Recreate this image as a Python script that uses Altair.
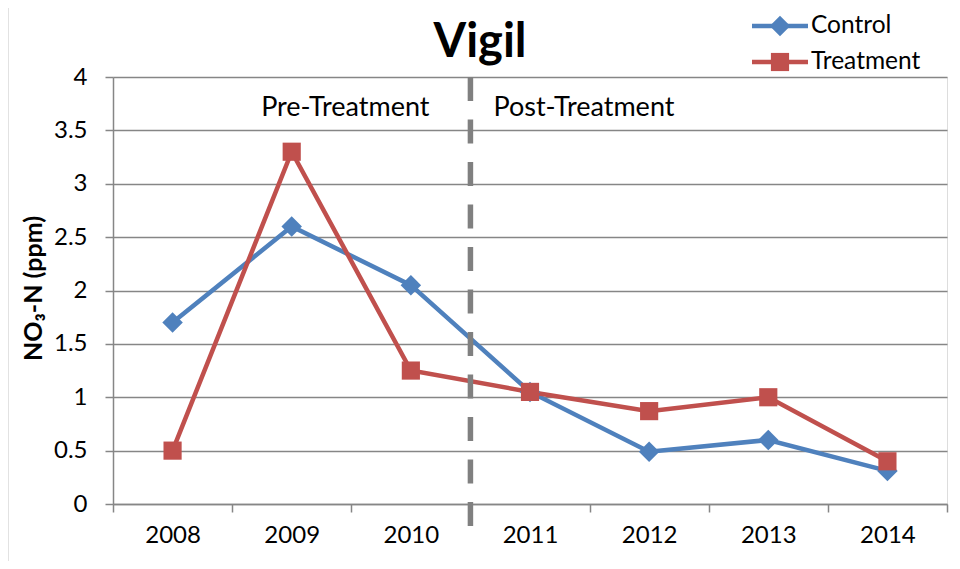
import altair as alt
import pandas as pd

years = ["2008", "2009", "2010", "2011", "2012", "2013", "2014"]
control = [1.7, 2.6, 2.05, 1.05, 0.49, 0.6, 0.31]
treatment = [0.5, 3.3, 1.25, 1.05, 0.87, 1.0, 0.4]
series_names = ["Control", "Treatment"]
series_colors = ["#4F81BD", "#C0504D"]
series_shapes = ["diamond", "square"]
series_sizes = [420, 330]
y_ticks = [0, 0.5, 1, 1.5, 2, 2.5, 3, 3.5, 4]
divider_year = "2011"
phase_labels = ["Pre-Treatment", "Post-Treatment"]
chart_title = "Vigil"
y_title = "NO\u2083-N (ppm)"

FONT = "Lato"
GRID = "#868686"

df = pd.DataFrame({
    "year": years * 2,
    "value": control + treatment,
    "series": [series_names[0]] * len(years) + [series_names[1]] * len(years),
})

x_scale = alt.Scale(type="band", domain=years, paddingInner=0, paddingOuter=0)
y_scale = alt.Scale(domain=[0, 4], nice=False)
color_scale = alt.Scale(domain=series_names, range=series_colors)

x_enc = alt.X(
    "year:O", scale=x_scale, bandPosition=0.5,
    axis=alt.Axis(
        title=None, labelAngle=0, tickBand="extent", tickSize=8, tickColor=GRID,
        tickWidth=1.5, domainColor=GRID, domainWidth=1.5, labelPadding=11,
        labelFont=FONT, labelFontSize=24, labelColor="#000000", grid=False,
    ),
)
y_enc = alt.Y(
    "value:Q", scale=y_scale,
    axis=alt.Axis(
        title=y_title, values=y_ticks, format="~g", grid=True, gridColor=GRID,
        gridWidth=1.5, tickSize=8, tickColor=GRID, tickWidth=1.5,
        domainColor=GRID, domainWidth=1.5, labelPadding=18, labelFont=FONT,
        labelFontSize=24, labelColor="#000000", titleFont=FONT, titleFontSize=25,
        titleFontWeight="bold", titleColor="#000000", titleX=-80, titleY=211,
        titleBaseline="middle", titleAngle=270,
    ),
)

base = alt.Chart(df)
lines = base.mark_line(strokeWidth=4.5).encode(
    x=x_enc, y=y_enc,
    color=alt.Color("series:N", scale=color_scale, legend=None),
)
points = base.mark_point(filled=True, opacity=1).encode(
    x=x_enc, y=y_enc,
    color=alt.Color("series:N", scale=color_scale, legend=None),
    shape=alt.Shape("series:N", scale=alt.Scale(domain=series_names, range=series_shapes), legend=None),
    size=alt.Size("series:N", scale=alt.Scale(domain=series_names, range=series_sizes), legend=None),
)

divider = alt.Chart(pd.DataFrame({"year": [divider_year]})).mark_rule(
    color="#808080", strokeWidth=5.5, strokeDash=[24, 18.5]
).encode(
    x=alt.X("year:O", scale=x_scale, bandPosition=0),
    y=alt.value(0), y2=alt.value(450),
)

pre_text = alt.Chart(pd.DataFrame({"t": [phase_labels[0]]})).mark_text(
    font=FONT, fontSize=27, align="center", baseline="alphabetic", dx=-6, color="#000000"
).encode(
    x=alt.X(datum="2010", scale=x_scale, bandPosition=0),
    y=alt.Y(datum=3.63, scale=y_scale),
    text="t:N",
)
post_text = alt.Chart(pd.DataFrame({"t": [phase_labels[1]]})).mark_text(
    font=FONT, fontSize=27, align="left", baseline="alphabetic", dx=23, color="#000000"
).encode(
    x=alt.X(datum="2011", scale=x_scale, bandPosition=0),
    y=alt.Y(datum=3.63, scale=y_scale),
    text="t:N",
)

title = alt.Chart(pd.DataFrame({"t": [chart_title]})).mark_text(
    font=FONT, fontSize=47, fontWeight="bold", align="center", baseline="alphabetic", color="#000000"
).encode(x=alt.value(367), y=alt.value(-20), text="t:N")

frame = alt.Chart(pd.DataFrame({"t": [0]})).mark_rect(
    fill=None, stroke="#8a8a8a", strokeWidth=2.5
).encode(x=alt.value(-106), x2=alt.value(900), y=alt.value(-72), y2=alt.value(520))

legend_layers = []
for i, name in enumerate(series_names):
    ly = -51 + 36 * i
    ldf = pd.DataFrame({"t": [name]})
    legend_layers.append(
        alt.Chart(ldf).mark_rule(color=series_colors[i], strokeWidth=4.5).encode(
            x=alt.value(639), x2=alt.value(695), y=alt.value(ly)
        )
    )
    legend_layers.append(
        alt.Chart(ldf).mark_point(
            filled=True, opacity=1, color=series_colors[i], shape=series_shapes[i], size=series_sizes[i]
        ).encode(x=alt.value(667), y=alt.value(ly))
    )
    legend_layers.append(
        alt.Chart(ldf).mark_text(
            font=FONT, fontSize=24.5, align="left", baseline="middle", color="#000000"
        ).encode(x=alt.value(698), y=alt.value(ly), text="t:N")
    )

chart = alt.layer(
    frame, lines, points, divider, pre_text, post_text, title, *legend_layers
).properties(
    width=834, height=427,
    autosize=alt.AutoSizeParams(type="none"),
    padding={"left": 105, "top": 69, "right": 5, "bottom": 57},
).configure_view(stroke=None).configure(background="#ffffff")

chart.save("out.html", embed_options={"renderer": "svg", "actions": False})
